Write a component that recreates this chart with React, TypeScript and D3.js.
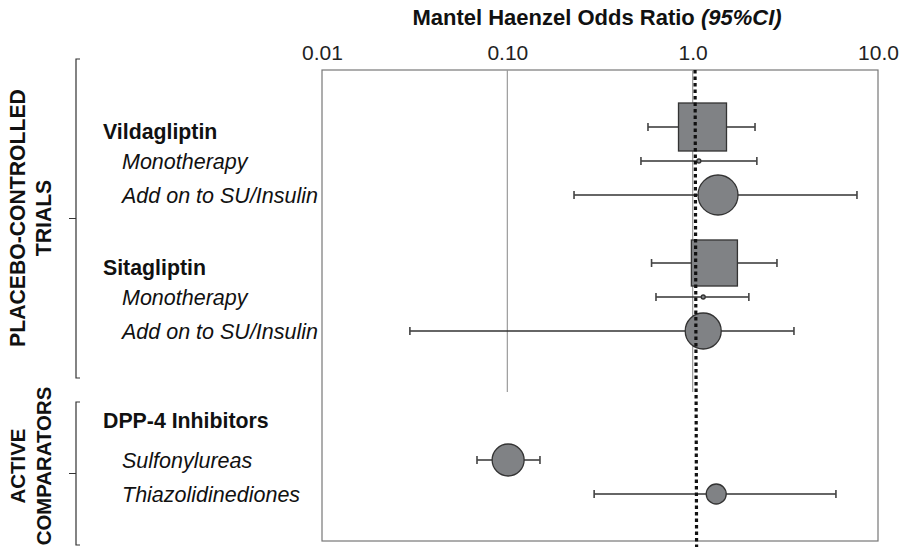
import { useEffect, useRef } from 'react'
import * as d3 from 'd3'

// Axis ticks
const TICKS = [0.01, 0.1, 1, 10]
const TICK_LABELS = ['0.01', '0.10', '1.0', '10.0']

// Row layout (placebo section and active comparator section)
const PLACEBO_KEYS = ['vilda', 'vildaMono', 'vildaAdd', 'gap', 'sita', 'sitaMono', 'sitaAdd']
const PLACEBO_LABELS = ['Vildagliptin', 'Monotherapy', 'Add on to SU/Insulin', '', 'Sitagliptin', 'Monotherapy', 'Add on to SU/Insulin']
const ACTIVE_KEYS = ['dpp', 'sulf', 'thiaz']
const ACTIVE_LABELS = ['DPP-4 Inhibitors', 'Sulfonylureas', 'Thiazolidinediones']
const HEADERS = ['vilda', 'sita', 'dpp']

// Estimates
const EST_KEYS = ['vilda', 'vildaMono', 'vildaAdd', 'sita', 'sitaMono', 'sitaAdd', 'sulf', 'thiaz']
const ODDS = [1.13, 1.08, 1.37, 1.31, 1.14, 1.14, 0.101, 1.34]
const LOWER = [0.574, 0.526, 0.229, 0.60, 0.634, 0.0298, 0.0686, 0.294]
const UPPER = [2.17, 2.22, 7.7, 2.85, 2.01, 3.52, 0.150, 5.93]
const WEIGHT = [576, 4, 400, 530, 4, 324, 256, 100]
const SHAPE = ['square', 'circle', 'circle', 'square', 'circle', 'circle', 'circle', 'circle']

const FONT = 'Arial, "Liberation Sans", Helvetica, sans-serif'

export default function App() {
  const ref = useRef<SVGSVGElement>(null)

  useEffect(() => {
    if (!ref.current) return
    const svg = d3.select(ref.current)
    svg.selectAll('*').remove()

    const left = 322, right = 878, top = 70, bottom = 541

    const x = d3.scaleLog().domain([0.01, 10]).range([left, right])
    const yP = d3.scalePoint<string>().domain(PLACEBO_KEYS).range([127, 331])
    const yA = d3.scalePoint<string>().domain(ACTIVE_KEYS).range([426, 494])
    const y = (k: string) => (PLACEBO_KEYS.includes(k) ? yP(k)! : yA(k)!)
    const r = d3.scaleSqrt().domain([0, 400]).range([0, 20])

    // Title
    const title = svg.append('text')
      .attr('x', 597).attr('y', 25)
      .attr('text-anchor', 'middle')
      .attr('font-family', FONT).attr('font-size', 22).attr('font-weight', 'bold')
      .attr('fill', '#111')
    title.append('tspan').text('Mantel Haenzel Odds Ratio ')
    title.append('tspan').attr('font-style', 'italic').text('(95%CI)')

    // Top axis labels
    const axis = svg.append('g')
      .attr('transform', `translate(0,${top - 4})`)
      .call(d3.axisTop(x).tickValues(TICKS).tickSize(0).tickPadding(6)
        .tickFormat((_, i) => TICK_LABELS[i]))
    axis.select('.domain').remove()
    axis.selectAll('text')
      .attr('font-family', FONT).attr('font-size', 21).attr('fill', '#222')

    // Plot frame
    svg.append('rect')
      .attr('x', left).attr('y', top)
      .attr('width', right - left).attr('height', bottom - top)
      .attr('fill', 'none').attr('stroke', '#777').attr('stroke-width', 1.2)

    // Grey reference lines through the placebo section
    ;[0.1, 1].forEach(v => {
      svg.append('line')
        .attr('x1', x(v)).attr('x2', x(v))
        .attr('y1', top).attr('y2', 392)
        .attr('stroke', '#9a9a9a').attr('stroke-width', 1.2)
    })

    // Error bars
    const g = svg.append('g')
    EST_KEYS.forEach((k, i) => {
      const cy = y(k)
      g.append('line')
        .attr('x1', x(LOWER[i])).attr('x2', x(UPPER[i]))
        .attr('y1', cy).attr('y2', cy)
        .attr('stroke', '#333').attr('stroke-width', 1.5)
      ;[LOWER[i], UPPER[i]].forEach(v => {
        g.append('line')
          .attr('x1', x(v)).attr('x2', x(v))
          .attr('y1', cy - 4).attr('y2', cy + 4)
          .attr('stroke', '#444').attr('stroke-width', 1.6)
      })
    })

    // Markers
    EST_KEYS.forEach((k, i) => {
      const cy = y(k)
      const cx = x(ODDS[i])
      const s = r(WEIGHT[i])
      if (SHAPE[i] === 'square') {
        g.append('rect')
          .attr('x', cx - s).attr('y', cy - s)
          .attr('width', s * 2).attr('height', s * 2)
          .attr('fill', '#808285').attr('stroke', '#333').attr('stroke-width', 1.3)
      } else {
        g.append('circle')
          .attr('cx', cx).attr('cy', cy).attr('r', s)
          .attr('fill', '#808285').attr('stroke', '#333').attr('stroke-width', 1.3)
      }
    })

    // Dotted null line, drawn over the markers
    svg.append('line')
      .attr('x1', x(1.03)).attr('x2', x(1.05))
      .attr('y1', top).attr('y2', bottom + 6)
      .attr('stroke', '#111').attr('stroke-width', 3.2)
      .attr('stroke-dasharray', '3.5,3')

    // Row labels
    const rowLabels = PLACEBO_KEYS.map((k, i) => ({ k, label: PLACEBO_LABELS[i] }))
      .concat(ACTIVE_KEYS.map((k, i) => ({ k, label: ACTIVE_LABELS[i] })))
      .filter(d => d.label)
    rowLabels.forEach(d => {
      const header = HEADERS.includes(d.k)
      svg.append('text')
        .attr('x', header ? 103 : 122)
        .attr('y', y(d.k) + (d.k === 'dpp' ? -6 : header ? 4 : 0))
        .attr('dy', '0.36em')
        .attr('font-family', FONT)
        .attr('font-size', header ? 21.3 : 21.5)
        .attr('font-weight', header ? 'bold' : 'normal')
        .attr('font-style', header ? 'normal' : 'italic')
        .attr('fill', '#111')
        .text(d.label)
    })

    // Group brackets
    const brackets = [
      { y0: 59, y1: 378, mid: 218, size: 21.2, lines: ['PLACEBO-CONTROLLED', 'TRIALS'] },
      { y0: 402, y1: 545, mid: 466, size: 20.4, lines: ['ACTIVE', 'COMPARATORS'] },
    ]
    brackets.forEach(b => {
      const bx = 76
      const mid = (b.y0 + b.y1) / 2
      svg.append('path')
        .attr('d', `M${bx + 4},${b.y0}H${bx}V${b.y1}H${bx + 4}M${bx},${mid}H${bx - 7}`)
        .attr('fill', 'none').attr('stroke', '#333').attr('stroke-width', 1.2)
      b.lines.forEach((t, i) => {
        svg.append('text')
          .attr('transform', `translate(${25 + i * 26},${b.mid}) rotate(-90)`)
          .attr('text-anchor', 'middle')
          .attr('font-family', FONT).attr('font-size', b.size).attr('font-weight', 'bold')
          .attr('fill', '#111')
          .text(t)
      })
    })
  }, [])

  return (
    <svg ref={ref} width={901} height={551}
      style={{ position: 'absolute', left: 0, top: 0, background: '#fff' }} />
  )
}
